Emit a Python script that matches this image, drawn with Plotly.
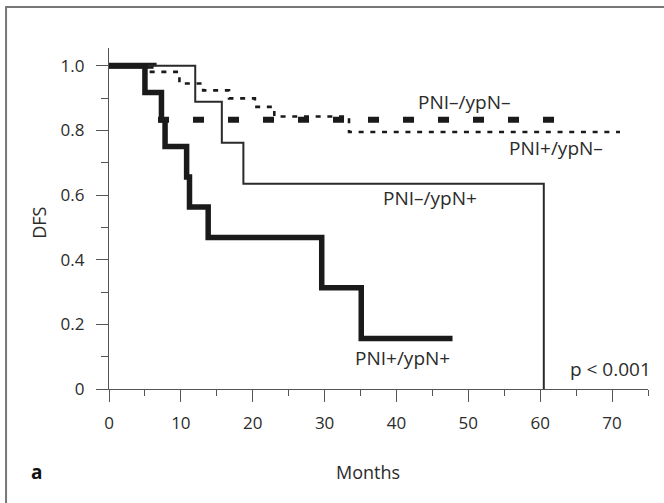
import plotly.graph_objects as go

# Kaplan-Meier step data (months, DFS)
pni_pos_ypn_pos_t = [0, 5.0, 7.3, 7.8, 10.8, 11.2, 13.8, 29.6, 35.1, 47.8]
pni_pos_ypn_pos_s = [1.0, 0.917, 0.833, 0.75, 0.656, 0.563, 0.469, 0.313, 0.156, 0.156]

pni_neg_ypn_pos_t = [0, 12.0, 15.7, 18.7, 60.5]
pni_neg_ypn_pos_s = [1.0, 0.889, 0.762, 0.635, 0.0]

pni_neg_ypn_neg_t = [0, 6.2, 62.5]
pni_neg_ypn_neg_s = [1.0, 0.833, 0.833]

pni_pos_ypn_neg_t = [0, 5.2, 9.8, 13.1, 16.7, 20.3, 23.0, 33.4, 71.1]
pni_pos_ypn_neg_s = [1.0, 0.981, 0.945, 0.924, 0.899, 0.873, 0.843, 0.795, 0.795]

x_ticks = [0, 10, 20, 30, 40, 50, 60, 70]
y_ticks = [0, 0.2, 0.4, 0.6, 0.8, 1.0]
y_ticklabels = ["0", "0.2", "0.4", "0.6", "0.8", "1.0"]

FONT = "Open Sans"
TXT = "#2b2b2b"
AX = "#555555"

fig = go.Figure()

# dotted PNI+/ypN-
fig.add_trace(go.Scatter(x=pni_pos_ypn_neg_t, y=pni_pos_ypn_neg_s, mode="lines",
                         line=dict(shape="hv", color="#1a1a1a", width=2.6, dash="5px,6.7px"),
                         hoverinfo="skip"))
# thick dashed PNI-/ypN-
dash_pat = "45px,58px," + ",".join(["11px,24px"] * 16)
fig.add_trace(go.Scatter(x=pni_neg_ypn_neg_t, y=pni_neg_ypn_neg_s, mode="lines",
                         line=dict(shape="hv", color="#1a1a1a", width=6, dash=dash_pat),
                         hoverinfo="skip"))
# thin PNI-/ypN+
fig.add_trace(go.Scatter(x=pni_neg_ypn_pos_t, y=pni_neg_ypn_pos_s, mode="lines",
                         line=dict(shape="hv", color="#2a2a2a", width=2),
                         hoverinfo="skip"))
# thick PNI+/ypN+
fig.add_trace(go.Scatter(x=pni_pos_ypn_pos_t, y=pni_pos_ypn_pos_s, mode="lines",
                         line=dict(shape="hv", color="#1a1a1a", width=5.5),
                         hoverinfo="skip"))

labels = [
    ("PNI–/ypN–", 49.4, 0.888),
    ("PNI+/ypN–", 62.2, 0.745),
    ("PNI–/ypN+", 44.7, 0.591),
    ("PNI+/ypN+", 40.9, 0.096),
    ("p < 0.001", 69.8, 0.062),
]
for txt, x, y in labels:
    fig.add_annotation(x=x, y=y, text=txt, showarrow=False, xref="x", yref="y",
                       xanchor="center", yanchor="middle",
                       font=dict(family=FONT, size=19, color=TXT))

fig.add_annotation(x=0.48, y=-0.243, xref="paper", yref="paper", text="Months",
                   xanchor="center", yanchor="middle",
                   showarrow=False, font=dict(family=FONT, size=18, color=TXT))
fig.add_annotation(x=-0.13, y=0.487, xref="paper", yref="paper", text="DFS",
                   xanchor="center", yanchor="middle",
                   textangle=-90, showarrow=False, font=dict(family=FONT, size=18, color=TXT))
fig.add_annotation(x=-0.134, y=-0.243, xref="paper", yref="paper", text="<b>a</b>",
                   xanchor="center", yanchor="middle",
                   showarrow=False, font=dict(family=FONT, size=19, color="#111111"))

# outer frame
fig.add_shape(type="rect", xref="paper", yref="paper", x0=-0.191, x1=1.05, y0=-0.36, y1=1.12,
              line=dict(color="#777777", width=2), fillcolor="rgba(0,0,0,0)", layer="below")

fig.update_layout(
    width=664, height=503,
    margin=dict(l=109, r=16, t=48, b=114),
    paper_bgcolor="white", plot_bgcolor="white",
    showlegend=False,
    font=dict(family=FONT, size=17, color=TXT),
    xaxis=dict(range=[0, 75], tickvals=x_ticks, ticks="outside", ticklen=12, tickwidth=1.3,
               tickcolor=AX, showline=True, linecolor=AX, linewidth=1.3, showgrid=False,
               zeroline=False, ticklabelstandoff=6,
               minor=dict(dtick=5, tick0=0, ticks="outside", ticklen=6, tickcolor=AX, tickwidth=1.3),
               tickfont=dict(family=FONT, size=17, color=TXT)),
    yaxis=dict(range=[0, 1.055], tickvals=y_ticks, ticktext=y_ticklabels, ticks="outside",
               ticklen=12, tickwidth=1.3, tickcolor=AX, showline=True, linecolor=AX,
               linewidth=1.3, showgrid=False, zeroline=False, ticklabelstandoff=8,
               minor=dict(dtick=0.1, tick0=0, ticks="outside", ticklen=7, tickcolor=AX, tickwidth=1.3),
               tickfont=dict(family=FONT, size=17, color=TXT)),
)

fig.write_html("out.html", config={"displayModeBar": False},
               post_script="document.body.style.margin='0';")
